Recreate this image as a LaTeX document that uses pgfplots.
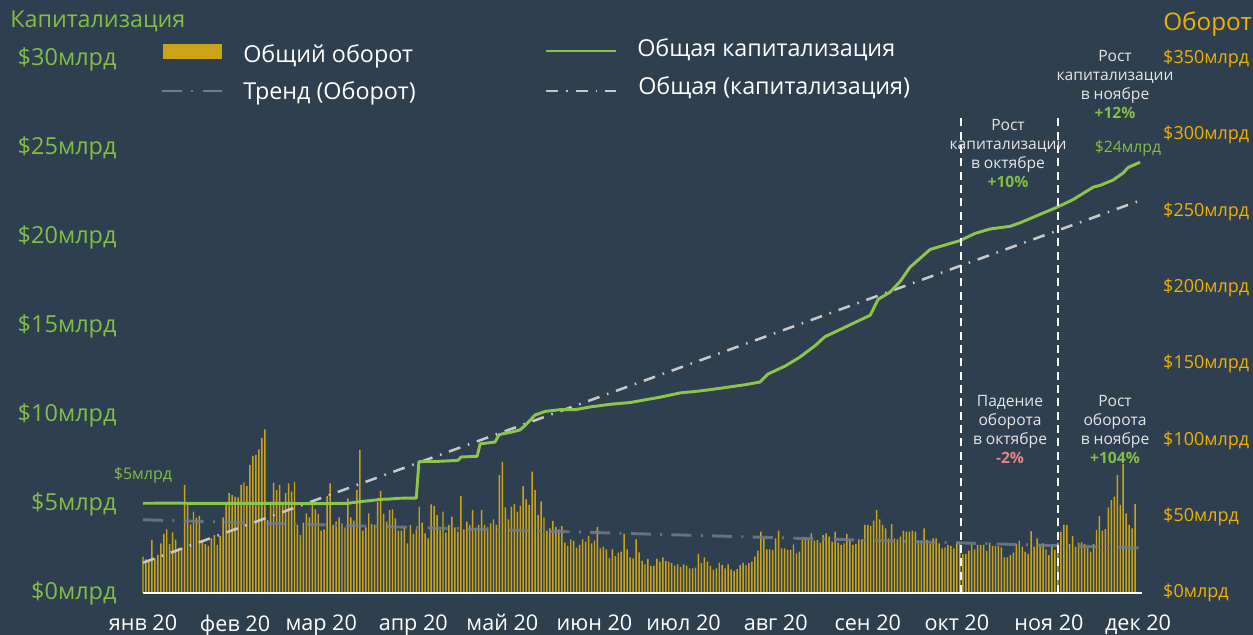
\documentclass[border=0pt]{standalone}
\usepackage{fontspec}
\setmainfont{Open Sans}
\usepackage{pgfplots}
\usepackage{pgfplotstable}
\pgfplotsset{compat=1.18}
\definecolor{bg}{RGB}{46,63,79}
\definecolor{gold}{RGB}{204,163,22}
\definecolor{capgreen}{RGB}{139,198,74}
\definecolor{labgreen}{RGB}{131,190,70}
\definecolor{orangelab}{RGB}{240,176,0}
\definecolor{trendgrey}{RGB}{200,200,200}
\definecolor{turngrey}{RGB}{112,124,136}
\definecolor{pinkneg}{RGB}{232,130,135}
\definecolor{anntext}{RGB}{230,230,230}

% daily total turnover, $ bn (right axis), 1 Jan .. 30 Nov 2020
\pgfplotstableread[header=false,row sep=\\]{
23.8\\22\\22\\34.7\\22.7\\25\\32.6\\38.7\\41.7\\32\\39.8\\35\\29.3\\29.7\\70.8\\57.7\\45\\53.3\\49.4\\50.5\\
33.6\\32\\30.8\\35.8\\38\\31.5\\37.4\\49.6\\58.3\\65.7\\64.2\\63.1\\62.7\\70.8\\72.5\\70.1\\83.9\\89.8\\90.6\\94.2\\
101.6\\107.3\\47.8\\57.7\\72.3\\67.5\\70.8\\58.8\\65.7\\71.9\\66.4\\72.9\\44.6\\38\\46.1\\52.2\\49.6\\57.7\\54.8\\51.8\\
40.8\\41.7\\63.6\\71.9\\44.6\\46.7\\49.6\\
45.7\\43\\62\\49.6\\47.4\\67.5\\93.7\\40.8\\43\\52.2\\45.2\\44.6\\59.8\\67\\51.8\\46.7\\54.4\\54.8\\48.9\\40.8\\
40.8\\43\\32.5\\44.6\\38.7\\41.7\\56.6\\46.1\\39.1\\35.8\\58.1\\57\\51.1\\41.3\\53.3\\39.5\\44.6\\50\\43\\40.2\\
63.6\\41.7\\46.7\\44.6\\54.4\\42.4\\44.6\\54.4\\44.6\\43\\45.7\\48.3\\44.6\\77.3\\86\\56.2\\48.3\\56.6\\58.3\\53.3\\
57\\70.1\\61.4\\57.7\\79.5\\67.5\\51.1\\
60\\49.6\\40.8\\42.4\\47.2\\43.4\\41.7\\43.9\\33\\30.8\\35.2\\34.1\\29.7\\31.5\\35.2\\33.6\\37.4\\32.6\\34.3\\43.4\\
29.3\\30.4\\28.6\\22.7\\28.6\\24.2\\26.4\\27.1\\38.7\\28.6\\23.4\\22.7\\35.2\\26.7\\21\\18.8\\22.3\\17.7\\17.7\\22.5\\
20.5\\23.4\\21\\20.5\\19.5\\17.9\\18.8\\17.2\\18.8\\17.9\\16.2\\16.2\\16.6\\25.6\\19.5\\23.4\\20.5\\17.7\\15.1\\16.2\\
19.9\\18.3\\16.2\\18.8\\15.5\\14.4\\
15.7\\18.3\\19.9\\18.3\\19.5\\20.5\\23.8\\27.7\\40.2\\35.4\\28.6\\28.6\\28.2\\35.8\\40.8\\29.3\\29.3\\28.2\\28.2\\31.9\\
26\\27.1\\34.7\\36.5\\35.2\\39.1\\34.3\\34.7\\33\\38\\39.1\\36.9\\33.6\\40.2\\33\\31.5\\32.6\\38.7\\35.2\\31.5\\
32.1\\35.2\\35.2\\44.6\\44.6\\43.9\\47.4\\54.4\\48.3\\44.6\\42.4\\35.8\\45.2\\35.8\\35.2\\36.9\\40.8\\40.2\\40.2\\40.8\\
40.2\\34.3\\34.3\\42.4\\34.7\\32.6\\35.8\\
35.8\\32.6\\29.3\\29.9\\31.5\\30.8\\29.3\\33.6\\33.6\\25.6\\25.6\\27.7\\32.1\\28.6\\31.5\\31.5\\31.5\\27.7\\33\\30.8\\
31\\30.8\\29.9\\23.4\\23.4\\24.9\\26.4\\32.1\\34.3\\30.4\\27.1\\25.6\\40.6\\30.4\\35.8\\31.5\\32.6\\28.6\\24.9\\30.8\\
28.2\\33\\40.2\\44.6\\44.6\\32.1\\37.4\\30.4\\33\\33.2\\32.1\\29.9\\27.1\\32.1\\41.3\\50.5\\40.8\\41.9\\56.2\\60.9\\
63.1\\77.3\\57.7\\84.5\\52.2\\44.6\\42.4\\58.3\\
}\turnover

\begin{document}
\begin{tikzpicture}[x=0.75pt,y=0.75pt]
\fill[bg] (0,0) rectangle (1253,635);
\useasboundingbox (0,0) rectangle (1253,635);

% ---------- right axis: turnover ----------
\begin{axis}[at={(107.025pt,31.5pt)}, anchor=south west,
  width=749.2pt, height=400.5pt, scale only axis,
  xmin=-0.1, xmax=336.2, ymin=0, ymax=350,
  axis x line=none, axis y line*=right, y axis line style={draw=none},
  ytick={0,50,...,350},
  yticklabels={\$0млрд,\$50млрд,\$100млрд,\$150млрд,\$200млрд,\$250млрд,\$300млрд,\$350млрд},
  yticklabel style={anchor=west, inner sep=0pt, xshift=16pt,
    font=\fontsize{13.5}{16}\selectfont, text=orangelab},
  major tick length=0pt, clip=false]
\addplot[ybar, bar width=1.1pt, bar shift=0pt, fill=gold, draw=none]
  table[x expr=\coordindex, y index=0] {\turnover};
\addplot[turngrey, line width=2.2pt, opacity=0.85,
  dash pattern=on 15pt off 7pt on 1.5pt off 7pt] coordinates {(0,48) (335.7,29.5)};
\end{axis}

% ---------- left axis: capitalisation ----------
\begin{axis}[at={(107.025pt,31.5pt)}, anchor=south west,
  width=749.2pt, height=400.5pt, scale only axis,
  xmin=-0.1, xmax=336.2, ymin=0, ymax=30,
  axis x line*=bottom, axis y line*=left,
  y axis line style={draw=none},
  x axis line style={draw=white, line width=1.6pt, -},
  xtick={0,31,60,91,121,152,182,213,244,274,305,335},
  xticklabels={янв 20,фев 20,мар 20,апр 20,май 20,июн 20,июл 20,авг 20,сен 20,окт 20,ноя 20,дек 20},
  xticklabel style={anchor=north, inner sep=0pt, yshift=-16pt,
    font=\fontsize{16.2}{19}\selectfont, text=white},
  ytick={0,5,...,30},
  yticklabels={\$0млрд,\$5млрд,\$10млрд,\$15млрд,\$20млрд,\$25млрд,\$30млрд},
  yticklabel style={anchor=east, inner sep=0pt, xshift=-19.5pt,
    font=\fontsize{17.6}{20}\selectfont, text=labgreen},
  major tick length=0pt, clip=false]
\addplot[trendgrey, line width=1.9pt,
  dash pattern=on 9pt off 6pt on 1.2pt off 6pt] coordinates {(0,1.7) (335.7,22.05)};
\addplot[capgreen, line width=2.2pt, line join=round] coordinates {
(0,5.04) (10,5.05) (20,5.03) (30,5.04) (40,5.03) (50,5.03) (60,5.02) (69,5.04)
(73,5.13) (77,5.2) (80,5.26) (83,5.28) (86,5.32) (89,5.33) (92,5.33) (92.9,7.38)
(100,7.40) (106,7.45) (107.1,7.64) (112.5,7.68) (113.5,8.38) (118.5,8.48) (119.9,8.9)
(124.6,9.06) (126.9,9.16) (128.6,9.4) (132,10.0) (135.4,10.2) (140.4,10.3) (145.5,10.3)
(150.5,10.45) (157.2,10.6) (164,10.7) (169,10.85) (174.1,11.0) (180.8,11.24) (187.5,11.35)
(194.3,11.5) (202.7,11.7) (207.7,11.85) (210.4,12.3) (216.2,12.75) (221.2,13.26) (226.3,13.9)
(229.6,14.4) (234.7,14.8) (239.7,15.2) (244.8,15.6) (247.5,16.5) (251.5,16.9) (254.9,17.5)
(258.2,18.3) (261.6,18.8) (265,19.3) (270,19.55) (275.1,19.8) (280.1,20.2) (285.2,20.45)
(291.9,20.6) (295.3,20.8) (301,21.2) (308.1,21.7) (313.1,22.1) (319.9,22.8) (322.2,22.9)
(326.6,23.2) (330,23.6) (331.6,23.9) (335.7,24.2)};
\draw[white, line width=1.5pt, dash pattern=on 6pt off 4pt] (axis cs:275.3,0) -- (axis cs:275.3,26.7);
\draw[white, line width=1.5pt, dash pattern=on 6pt off 4pt] (axis cs:308.1,0) -- (axis cs:308.1,26.7);
\end{axis}

% ---------- titles ----------
\node[anchor=base west, inner sep=0pt, text=labgreen, font=\fontsize{17.5}{20}\selectfont] at (10,607) {Капитализация};
\node[anchor=base west, inner sep=0pt, text=orangelab, font=\fontsize{18.2}{21}\selectfont] at (1163,604) {Оборот};

% ---------- legend ----------
\fill[gold] (163,576) rectangle (222,591);
\node[anchor=base west, inner sep=0pt, text=white, font=\fontsize{17.5}{20}\selectfont] at (243,572) {Общий оборот};
\draw[turngrey, line width=2.2pt, dash pattern=on 15pt off 7pt on 1.5pt off 7pt] (162,544) -- (222,544);
\node[anchor=base west, inner sep=0pt, text=white, font=\fontsize{17.5}{20}\selectfont] at (243,535) {Тренд (Оборот)};
\draw[capgreen, line width=2.2pt] (546,584) -- (616,584);
\node[anchor=base west, inner sep=0pt, text=white, font=\fontsize{17.5}{20}\selectfont] at (637,578) {Общая капитализация};
\draw[trendgrey, line width=1.9pt, dash pattern=on 9pt off 6pt on 1.2pt off 6pt] (546,544) -- (616,544);
\node[anchor=base west, inner sep=0pt, text=white, font=\fontsize{17.5}{20}\selectfont] at (638,540) {Общая (капитализация)};

% ---------- annotations ----------
\node[anchor=north, inner sep=0pt, align=center, text=anntext, font=\fontsize{11.7}{14.3}\selectfont]
  at (1115,585) {Рост\\капитализации\\в ноябре\\{\bfseries\color{labgreen}+12\%}};
\node[anchor=north, inner sep=0pt, align=center, text=anntext, font=\fontsize{11.7}{14.3}\selectfont]
  at (1008,515.7) {Рост\\капитализации\\в октябре\\{\bfseries\color{labgreen}+10\%}};
\node[anchor=north, inner sep=0pt, align=center, text=anntext, font=\fontsize{11.7}{14.3}\selectfont]
  at (1010,240) {Падение\\оборота\\в октябре\\{\bfseries\color{pinkneg}-2\%}};
\node[anchor=north, inner sep=0pt, align=center, text=anntext, font=\fontsize{11.7}{14.3}\selectfont]
  at (1115,240) {Рост\\оборота\\в ноябре\\{\bfseries\color{labgreen}+104\%}};
\node[anchor=base, inner sep=0pt, text=labgreen, font=\fontsize{11.8}{14}\selectfont] at (1128,482) {\$24млрд};
\node[anchor=base, inner sep=0pt, text=labgreen, font=\fontsize{12}{14}\selectfont] at (143,155) {\$5млрд};
\end{tikzpicture}
\end{document}
